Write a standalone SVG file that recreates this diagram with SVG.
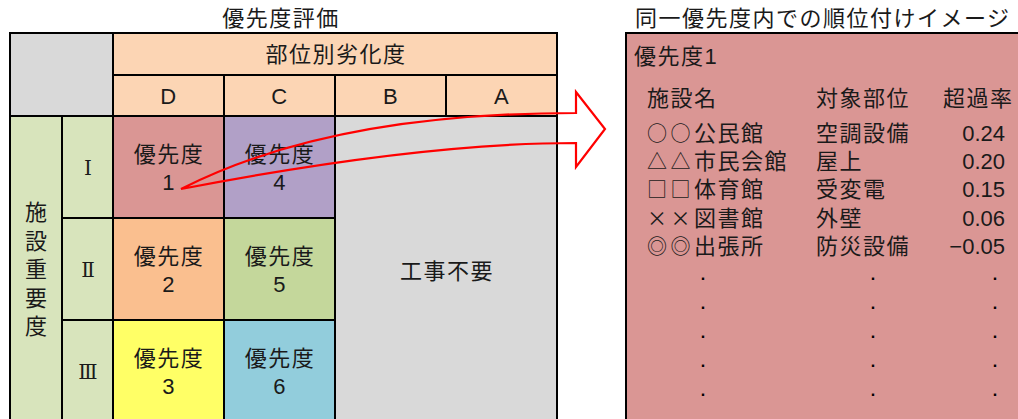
<svg xmlns="http://www.w3.org/2000/svg" width="1018" height="419" viewBox="0 0 1018 419">
<style>
.t{font-family:"Liberation Sans","Noto Sans CJK JP",sans-serif;font-size:22px;fill:#1a1a1a;letter-spacing:1.5px}
.s{font-family:"Noto Sans CJK JP",sans-serif}
.sym{font-family:"Noto Sans CJK JP",sans-serif;font-size:20px;letter-spacing:3.5px}
.c{text-anchor:middle}
.r{text-anchor:end;letter-spacing:0}
.v{writing-mode:vertical-rl;letter-spacing:6.5px}
.rn{font-family:"DejaVu Serif","Liberation Serif",serif;font-size:20px;fill:#1a1a1a;text-anchor:middle}
.cell{stroke:#000;stroke-width:2}
.dot{font-family:"Liberation Sans",sans-serif;font-size:16px;font-weight:bold;fill:#000;text-anchor:middle}
</style>
<rect width="1018" height="419" fill="#fff"/>
<g id="title-left"><text class="t c" x="281" y="26">優先度評価</text></g>
<g id="title-right"><text class="t" x="635" y="26">同一優先度内での順位付けイメージ</text></g>

<g id="corner"><rect class="cell" x="10" y="33" width="103" height="83" fill="#D9D9D9"/></g>
<g id="header-deg"><rect class="cell" x="113" y="33" width="444" height="42" fill="#FCD5B4"/><text class="t c" x="336" y="62">部位別劣化度</text></g>
<g id="col-D"><rect class="cell" x="113" y="75" width="111" height="41" fill="#FCD5B4"/><text class="t c" x="169" y="104">D</text></g>
<g id="col-C"><rect class="cell" x="224" y="75" width="111" height="41" fill="#FCD5B4"/><text class="t c" x="280" y="104">C</text></g>
<g id="col-B"><rect class="cell" x="335" y="75" width="111" height="41" fill="#FCD5B4"/><text class="t c" x="391" y="104">B</text></g>
<g id="col-A"><rect class="cell" x="446" y="75" width="111" height="41" fill="#FCD5B4"/><text class="t c" x="502" y="104">A</text></g>

<g id="importance"><rect class="cell" x="10" y="116" width="52" height="320" fill="#D8E4BC"/>
<text class="t s v" x="36" y="201">施設重要度</text></g>
<g id="row-1"><rect class="cell" x="62" y="116" width="51" height="102" fill="#D8E4BC"/><text class="rn" x="88" y="175">Ⅰ</text></g>
<g id="row-2"><rect class="cell" x="62" y="218" width="51" height="102" fill="#D8E4BC"/><text class="rn" x="88" y="277">Ⅱ</text></g>
<g id="row-3"><rect class="cell" x="62" y="320" width="51" height="120" fill="#D8E4BC"/><text class="rn" x="88" y="379">Ⅲ</text></g>

<g id="p1"><rect class="cell" x="113" y="116" width="111" height="102" fill="#DA9694"/><text class="t c"><tspan x="169" y="162">優先度</tspan><tspan x="169" y="190">1</tspan></text></g>
<g id="p4"><rect class="cell" x="224" y="116" width="111" height="102" fill="#B1A0C7"/><text class="t c"><tspan x="280" y="162">優先度</tspan><tspan x="280" y="190">4</tspan></text></g>
<g id="p2"><rect class="cell" x="113" y="218" width="111" height="102" fill="#FABF8F"/><text class="t c"><tspan x="169" y="264">優先度</tspan><tspan x="169" y="292">2</tspan></text></g>
<g id="p5"><rect class="cell" x="224" y="218" width="111" height="102" fill="#C4D79B"/><text class="t c"><tspan x="280" y="264">優先度</tspan><tspan x="280" y="292">5</tspan></text></g>
<g id="p3"><rect class="cell" x="113" y="320" width="111" height="120" fill="#FFFF66"/><text class="t c"><tspan x="169" y="366">優先度</tspan><tspan x="169" y="394">3</tspan></text></g>
<g id="p6"><rect class="cell" x="224" y="320" width="111" height="120" fill="#92CDDC"/><text class="t c"><tspan x="280" y="366">優先度</tspan><tspan x="280" y="394">6</tspan></text></g>
<g id="no-work"><rect class="cell" x="335" y="116" width="222" height="320" fill="#D9D9D9"/><text class="t c" x="447" y="279">工事不要</text></g>

<g id="ranking-panel">
<rect class="cell" x="626" y="33" width="420" height="420" fill="#DA9694"/>
<text class="t" x="634" y="64">優先度1</text>
<text class="t"><tspan x="647" y="106">施設名</tspan><tspan x="647" y="141"><tspan class="sym">○○</tspan>公民館</tspan><tspan x="647" y="169"><tspan class="sym">△△</tspan>市民会館</tspan><tspan x="647" y="197"><tspan class="sym">□□</tspan>体育館</tspan><tspan x="647" y="226"><tspan class="sym">××</tspan>図書館</tspan><tspan x="647" y="254"><tspan class="sym">◎◎</tspan>出張所</tspan></text>
<text class="t"><tspan x="816" y="106">対象部位</tspan><tspan x="816" y="141">空調設備</tspan><tspan x="816" y="169">屋上</tspan><tspan x="816" y="197">受変電</tspan><tspan x="816" y="226">外壁</tspan><tspan x="816" y="254">防災設備</tspan></text>
<text class="t" x="943" y="106">超過率</text>
<text class="t r"><tspan x="1005" y="141">0.24</tspan><tspan x="1005" y="169">0.20</tspan><tspan x="1005" y="197">0.15</tspan><tspan x="1005" y="226">0.06</tspan><tspan x="1005" y="254">−0.05</tspan></text>
<text class="dot"><tspan x="703" y="280">.</tspan><tspan x="703" y="309">.</tspan><tspan x="703" y="338">.</tspan><tspan x="703" y="367">.</tspan><tspan x="703" y="396">.</tspan></text>
<text class="dot"><tspan x="873" y="280">.</tspan><tspan x="873" y="309">.</tspan><tspan x="873" y="338">.</tspan><tspan x="873" y="367">.</tspan><tspan x="873" y="396">.</tspan></text>
<text class="dot"><tspan x="995" y="280">.</tspan><tspan x="995" y="309">.</tspan><tspan x="995" y="338">.</tspan><tspan x="995" y="367">.</tspan><tspan x="995" y="396">.</tspan></text>
</g>

<g id="connectors">
<path d="M181,189 Q330,113 576,113 L576,92 L605,129 L576,167 L576,143 Q420,143 181,189 Z" fill="none" stroke="#FF0000" stroke-width="2.2" stroke-linejoin="miter"/>
</g>
</svg>
